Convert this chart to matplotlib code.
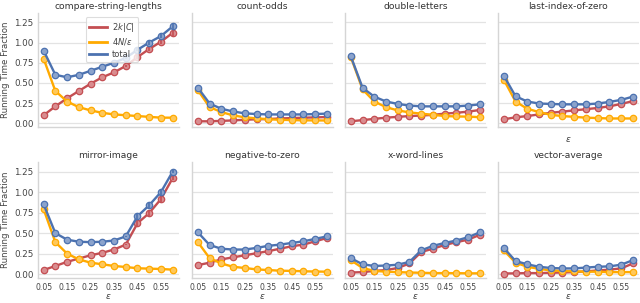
import matplotlib
matplotlib.use("Agg")
import matplotlib.pyplot as plt
import numpy as np
from matplotlib.colors import to_rgb

eps = [0.05, 0.10, 0.15, 0.20, 0.25, 0.30, 0.35, 0.40, 0.45, 0.50, 0.55, 0.60]
xtick_labels = ["0.05", "0.15", "0.25", "0.35", "0.45", "0.55"]
titles = ["compare-string-lengths", "count-odds", "double-letters", "last-index-of-zero",
          "mirror-image", "negative-to-zero", "x-word-lines", "vector-average"]

red = {
    "compare-string-lengths": [0.10, 0.21, 0.31, 0.40, 0.49, 0.57, 0.63, 0.71, 0.82, 0.92, 1.01, 1.12],
    "count-odds": [0.025, 0.025, 0.03, 0.036, 0.044, 0.05, 0.053, 0.06, 0.065, 0.07, 0.073, 0.078],
    "double-letters": [0.025, 0.04, 0.055, 0.07, 0.08, 0.09, 0.096, 0.105, 0.12, 0.13, 0.145, 0.165],
    "last-index-of-zero": [0.05, 0.074, 0.09, 0.11, 0.13, 0.145, 0.16, 0.175, 0.19, 0.21, 0.24, 0.275],
    "mirror-image": [0.05, 0.10, 0.15, 0.19, 0.23, 0.26, 0.30, 0.36, 0.62, 0.745, 0.915, 1.17],
    "negative-to-zero": [0.11, 0.14, 0.18, 0.205, 0.23, 0.255, 0.28, 0.31, 0.34, 0.36, 0.40, 0.44],
    "x-word-lines": [0.02, 0.025, 0.04, 0.05, 0.075, 0.13, 0.27, 0.31, 0.355, 0.39, 0.42, 0.48],
    "vector-average": [0.008, 0.01, 0.013, 0.013, 0.017, 0.02, 0.025, 0.034, 0.045, 0.055, 0.07, 0.13],
}
orange = {
    "compare-string-lengths": [0.80, 0.40, 0.27, 0.20, 0.16, 0.13, 0.11, 0.10, 0.09, 0.08, 0.07, 0.07],
    "count-odds": [0.41, 0.20, 0.14, 0.098, 0.074, 0.061, 0.05, 0.044, 0.04, 0.037, 0.036, 0.035],
    "double-letters": [0.82, 0.42, 0.27, 0.20, 0.16, 0.135, 0.12, 0.105, 0.09, 0.085, 0.083, 0.076],
    "last-index-of-zero": [0.54, 0.27, 0.18, 0.14, 0.105, 0.09, 0.08, 0.07, 0.065, 0.06, 0.06, 0.06],
    "mirror-image": [0.79, 0.39, 0.25, 0.18, 0.14, 0.12, 0.10, 0.087, 0.072, 0.067, 0.063, 0.055],
    "negative-to-zero": [0.39, 0.195, 0.13, 0.09, 0.075, 0.058, 0.05, 0.042, 0.04, 0.035, 0.032, 0.03],
    "x-word-lines": [0.17, 0.075, 0.04, 0.03, 0.025, 0.02, 0.017, 0.013, 0.013, 0.012, 0.01, 0.01],
    "vector-average": [0.29, 0.14, 0.09, 0.065, 0.045, 0.04, 0.035, 0.03, 0.03, 0.025, 0.025, 0.025],
}
total = {
    "compare-string-lengths": [0.90, 0.60, 0.57, 0.60, 0.65, 0.70, 0.75, 0.81, 0.91, 1.00, 1.08, 1.20],
    "count-odds": [0.44, 0.245, 0.18, 0.147, 0.123, 0.115, 0.11, 0.11, 0.11, 0.11, 0.115, 0.12],
    "double-letters": [0.83, 0.44, 0.33, 0.27, 0.24, 0.22, 0.21, 0.21, 0.21, 0.21, 0.22, 0.235],
    "last-index-of-zero": [0.59, 0.335, 0.27, 0.245, 0.24, 0.235, 0.235, 0.235, 0.245, 0.265, 0.29, 0.33],
    "mirror-image": [0.85, 0.50, 0.42, 0.395, 0.39, 0.395, 0.41, 0.46, 0.705, 0.84, 1.00, 1.25],
    "negative-to-zero": [0.51, 0.355, 0.31, 0.30, 0.30, 0.32, 0.345, 0.36, 0.38, 0.40, 0.43, 0.46],
    "x-word-lines": [0.195, 0.12, 0.10, 0.105, 0.115, 0.15, 0.29, 0.345, 0.38, 0.41, 0.45, 0.51],
    "vector-average": [0.32, 0.16, 0.12, 0.09, 0.075, 0.07, 0.07, 0.08, 0.09, 0.095, 0.115, 0.17],
}
# error bar half-widths (only visible in a few panels)
err = {
    "compare-string-lengths": [0, 0, 0, 0, 0, 0, 0, 0.01, 0.02, 0.025, 0.03, 0.04],
    "mirror-image": [0, 0, 0, 0, 0, 0, 0, 0.01, 0.04, 0.035, 0.03, 0.02],
}

C_RED = "#c44e52"
C_ORA = "#ffaa00"
C_BLU = "#4c72b0"

def light(c, f=0.35):
    r = np.array(to_rgb(c))
    return tuple(r + (1 - r) * f)

fig = plt.figure(figsize=(6.4, 3.03), dpi=100)
lefts = [0.059, 0.300, 0.539, 0.778]
w = 0.220
rows = [(0.581, 0.957), (0.083, 0.465)]

x = np.arange(len(eps))
for i, t in enumerate(titles):
    r, c = divmod(i, 4)
    b, tp = rows[r]
    ax = fig.add_axes([lefts[c], b, w, tp - b])
    e = np.array(err.get(t, [0] * len(eps)))
    for vals, col, lab in [(red[t], C_RED, r"$2k|C|$"), (orange[t], C_ORA, r"$4N/\epsilon$"),
                           (total[t], C_BLU, "total")]:
        ax.plot(x, vals, color=col, lw=1.7, marker="o", ms=4.6, mfc=light(col),
                mec=col, mew=0.9, label=lab, zorder=3)
        if col != C_ORA and e.any():
            ax.errorbar(x, vals, yerr=e, fmt="none", ecolor=col, elinewidth=1.2, zorder=3)
    ax.set_xlim(-0.5, len(eps) - 0.5)
    ax.set_ylim(-0.045, 1.365)
    ax.set_yticks([0, 0.25, 0.5, 0.75, 1.0, 1.25])
    ax.set_xticks(x[::2])
    ax.grid(axis="y", color="#e3e3e3", lw=0.9)
    ax.set_axisbelow(True)
    for s in ["top", "right"]:
        ax.spines[s].set_visible(False)
    for s in ["left", "bottom"]:
        ax.spines[s].set_color("#d5d5d5")
        ax.spines[s].set_linewidth(1.0)
    ax.tick_params(axis="y", length=0, labelsize=6.3, colors="#444444", pad=3)
    ax.tick_params(axis="x", length=0, labelsize=5.6, colors="#444444", pad=4)
    ax.set_title(t, fontsize=6.6, color="#333333", pad=3)
    if c == 0:
        ax.set_yticklabels(["0.00", "0.25", "0.50", "0.75", "1.00", "1.25"])
        ax.set_ylabel("Running Time Fraction", fontsize=6.2, color="#444444", labelpad=3)
    else:
        ax.set_yticklabels([])
    if r == 1:
        ax.set_xticklabels(xtick_labels)
        ax.set_xlabel(r"$\epsilon$", fontsize=6.5, color="#444444", labelpad=0)
    else:
        ax.set_xticklabels([])
        if c == 3:
            ax.set_xlabel(r"$\epsilon$", fontsize=6.5, color="#444444", labelpad=2)
    if i == 0:
        leg = ax.legend(handles=[plt.Line2D([], [], color=C_RED, lw=2.0),
                                 plt.Line2D([], [], color=C_ORA, lw=2.0),
                                 plt.Line2D([], [], color=C_BLU, lw=2.0)],
                        labels=[r"$2k|C|$", r"$4N/\epsilon$", "total"],
                        loc="upper left", bbox_to_anchor=(0.31, 1.0), fontsize=6.0,
                        frameon=True, handlelength=2.2, borderpad=0.4, labelspacing=0.3,
                        handletextpad=0.6)
        leg.get_frame().set_edgecolor("#d5d5d5")
        leg.get_frame().set_linewidth(0.8)
        for tx in leg.get_texts():
            tx.set_color("#444444")

fig.savefig("out.png", dpi=100)
